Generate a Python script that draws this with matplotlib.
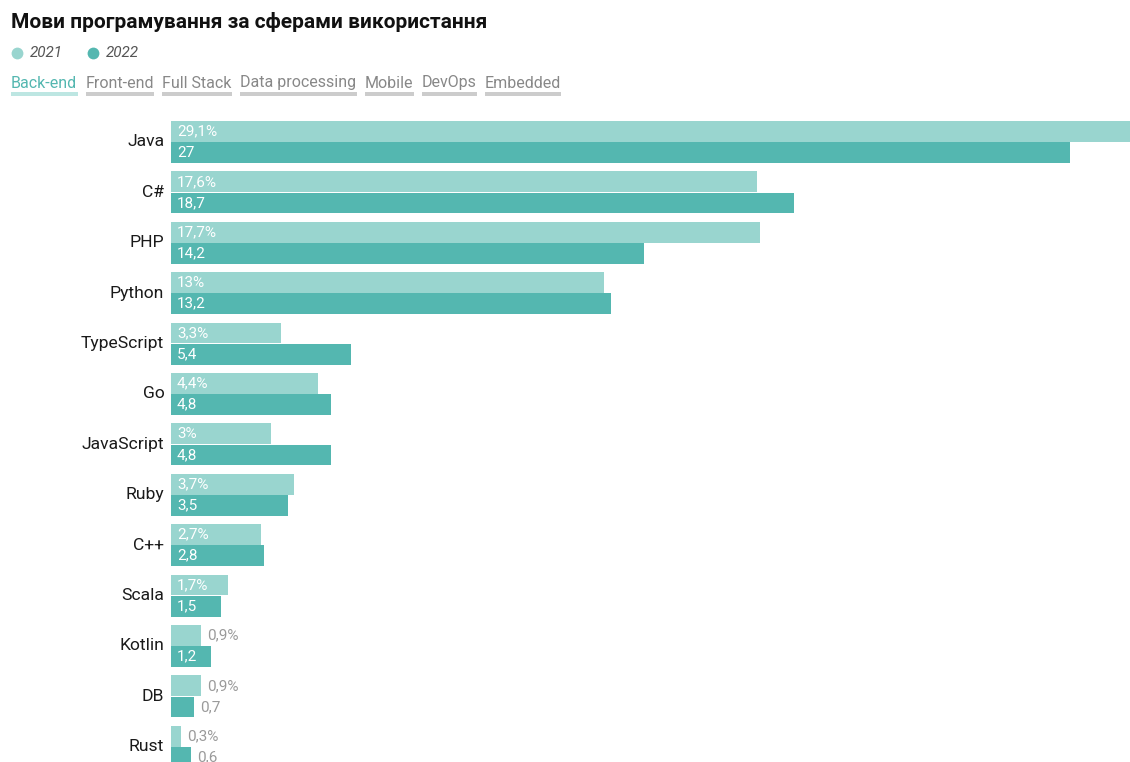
import matplotlib
matplotlib.use("Agg")
import matplotlib.pyplot as plt
from matplotlib.patches import Rectangle
from matplotlib.lines import Line2D
from matplotlib.transforms import offset_copy
import numpy as np

plt.rcParams['font.family'] = ['Roboto', 'DejaVu Sans']

languages = ["Java", "C#", "PHP", "Python", "TypeScript", "Go", "JavaScript",
             "Ruby", "C++", "Scala", "Kotlin", "DB", "Rust"]
values_2021 = [29.1, 17.6, 17.7, 13.0, 3.3, 4.4, 3.0, 3.7, 2.7, 1.7, 0.9, 0.9, 0.3]
values_2022 = [27.0, 18.7, 14.2, 13.2, 5.4, 4.8, 4.8, 3.5, 2.8, 1.5, 1.2, 0.7, 0.6]
years = ["2021", "2022"]
tabs = ["Back-end", "Front-end", "Full Stack", "Data processing", "Mobile", "DevOps", "Embedded"]

C21 = "#99d5cf"
C22 = "#54b7b0"
GRAY = "#9a9a9a"

W, H = 1130, 762
fig = plt.figure(figsize=(W / 100, H / 100), dpi=100)

def fx(px):
    return px / W

def fy(py):
    return 1 - py / H

# axes: left at 171px, right at edge, top at 112px, bottom at figure bottom
ax = fig.add_axes([fx(171), 0, 1 - fx(171), (H - 112) / H])
spacing = 50.4
ax.set_ylim((H - 142) / spacing, -(142 - 112) / spacing)
ax.set_xlim(0, (W - 171) / 33.3)
ax.axis("off")

y = np.arange(len(languages))
bh = 0.415
ax.barh(y - 0.21, values_2021, height=bh, color=C21, linewidth=0)
ax.barh(y + 0.21, values_2022, height=bh, color=C22, linewidth=0)

def fmt(v):
    s = f"{v:.1f}".rstrip("0").rstrip(".")
    return s.replace(".", ",")

tr_off = offset_copy(ax.transData, fig=fig, x=6, y=0, units="dots")
for i, lang in enumerate(languages):
    for v, off, pct in ((values_2021[i], -0.21, True), (values_2022[i], 0.21, False)):
        label = fmt(v) + ("%" if pct else "")
        if v >= 1.0:
            ax.text(0, i + off, label, transform=tr_off, color="white", fontsize=11,
                    va="center", ha="left")
        else:
            ax.text(v, i + off, label, transform=tr_off, color=GRAY, fontsize=11,
                    va="center", ha="left", clip_on=False)
    ax.text(-0.2, i, lang, fontsize=12.6, color="#1a1a1a", ha="right", va="center")

# title
fig.text(fx(11), fy(22), "Мови програмування за сферами використання", fontsize=15,
         fontweight="bold", color="#111111", ha="left", va="center")

# legend
for px, yr, col in ((17, years[0], C21), (93, years[1], C22)):
    fig.add_artist(Line2D([fx(px)], [fy(53)], marker="o", markersize=8.5,
                          markerfacecolor=col, markeredgewidth=0, linestyle="none",
                          transform=fig.transFigure))
    fig.text(fx(px + 13), fy(53), yr, fontsize=11, style="italic", color="#555555",
             ha="left", va="center")

# tabs
tab_x = [11, 86, 162, 240, 365, 422, 485]
tab_w = [67, 68, 70, 117, 49, 55, 76]
for i, (t, x0, w) in enumerate(zip(tabs, tab_x, tab_w)):
    active = i == 0
    fig.text(fx(x0), fy(83), t, fontsize=11.5, color=C22 if active else "#888888",
             ha="left", va="center")
    fig.add_artist(Rectangle((fx(x0), fy(96)), w / W, 4 / H,
                             facecolor="#bde6e2" if active else "#cccccc",
                             transform=fig.transFigure, linewidth=0))

fig.savefig("out.png", dpi=100)
